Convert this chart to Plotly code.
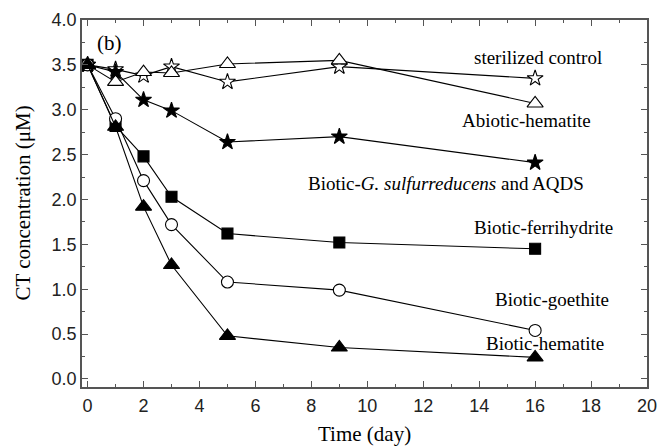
import plotly.graph_objects as go

days = [0, 1, 2, 3, 5, 9, 16]
sterilized = [3.50, 3.45, 3.38, 3.48, 3.31, 3.48, 3.35]
abiotic_hem = [3.50, 3.31, 3.42, 3.41, 3.51, 3.55, 3.07]
biotic_gs = [3.50, 3.42, 3.11, 2.99, 2.64, 2.70, 2.41]
biotic_ferri = [3.50, 2.82, 2.48, 2.03, 1.62, 1.52, 1.45]
biotic_goe = [3.50, 2.90, 2.21, 1.72, 1.08, 0.99, 0.54]
biotic_hem = [3.50, 2.81, 1.92, 1.27, 0.48, 0.35, 0.24]

series = [
    ("sterilized control", sterilized, "star", "white", 12),
    ("Abiotic-hematite", abiotic_hem, "triangle-up", "white", 14),
    ("Biotic-G. sulfurreducens and AQDS", biotic_gs, "star", "black", 12),
    ("Biotic-ferrihydrite", biotic_ferri, "square", "black", 11),
    ("Biotic-goethite", biotic_goe, "circle", "white", 12),
    ("Biotic-hematite", biotic_hem, "triangle-up", "black", 14),
]

fig = go.Figure()
for name, ys, sym, fill, sz in series:
    fig.add_trace(go.Scatter(
        x=days, y=ys, mode="lines+markers", name=name,
        line=dict(color="black", width=1.1),
        marker=dict(symbol=sym, size=sz, color=fill,
                    line=dict(color="black", width=1.1)),
        showlegend=False,
    ))

serif = "Liberation Serif, Times New Roman, serif"
labels = [
    ("(b)", 0.8, 3.74, 21),
    ("sterilized control", 16.1, 3.58, 19),
    ("Abiotic-hematite", 15.7, 2.875, 19),
    ("Biotic-<i>G. sulfurreducens</i> and AQDS", 12.8, 2.18, 19),
    ("Biotic-ferrihydrite", 16.3, 1.69, 19),
    ("Biotic-goethite", 16.6, 0.88, 19),
    ("Biotic-hematite", 16.35, 0.39, 19),
]
for txt, x, y, fs in labels:
    fig.add_annotation(x=x, y=y, text=txt, showarrow=False,
                       font=dict(family=serif, size=fs, color="black"))

# axis titles
fig.add_annotation(x=0.5, y=0, xref="paper", yref="paper", yshift=-47,
                   xanchor="center", yanchor="middle",
                   text="Time (day)", showarrow=False,
                   font=dict(family=serif, size=21, color="black"))
fig.add_annotation(x=0, y=0.5, xref="paper", yref="paper", xshift=-60,
                   xanchor="center", yanchor="middle",
                   text="CT concentration (μM)", showarrow=False, textangle=-90,
                   font=dict(family=serif, size=21, color="black"))

axis_common = dict(
    showline=True, linecolor="#555", linewidth=1.5, mirror="allticks",
    ticks="inside", ticklen=6, tickcolor="#555", tickwidth=1,
    showgrid=False, zeroline=False, automargin=False,
    tickfont=dict(family="Liberation Sans, Arial, sans-serif", size=18, color="#222"),
)

fig.update_xaxes(
    range=[-0.2, 20], dtick=2, tick0=0, ticklabelstandoff=2,
    minor=dict(ticks="inside", dtick=1, ticklen=3, tickcolor="#555"),
    **axis_common,
)
fig.update_yaxes(
    range=[-0.09, 4.0], dtick=0.5, tick0=0, tickformat=".1f",
    minor=dict(ticks="inside", dtick=0.25, ticklen=3, tickcolor="#555"),
    **axis_common,
)

fig.update_layout(
    width=670, height=446,
    margin=dict(l=82, r=23, t=20, b=59),
    plot_bgcolor="white", paper_bgcolor="white",
)

fig.write_html("out.html")
